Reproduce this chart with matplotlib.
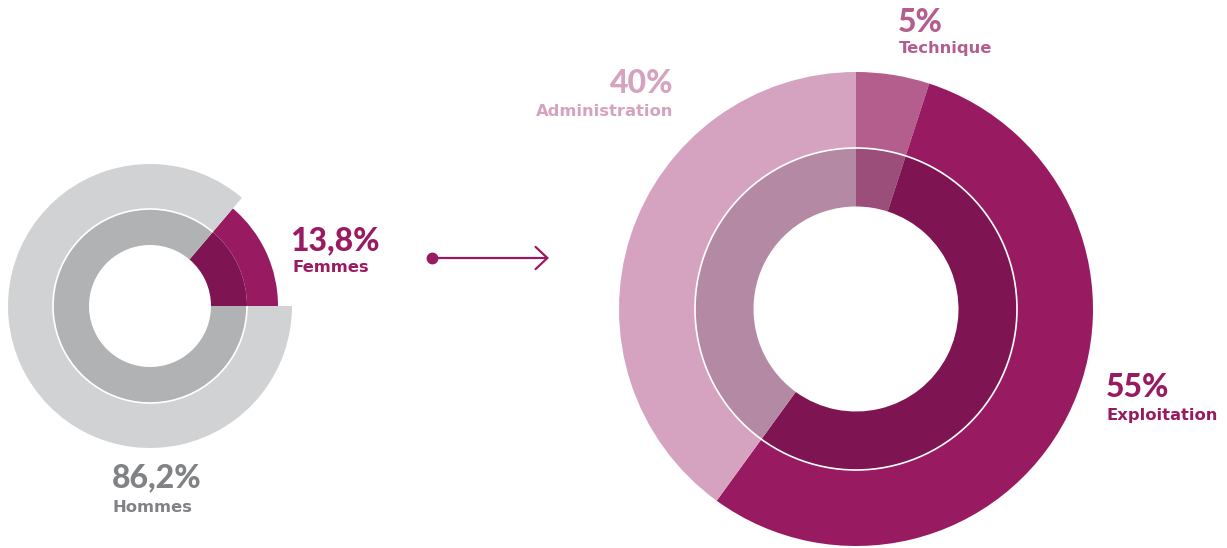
import matplotlib.pyplot as plt
import matplotlib.patches as patches

# données
genre_labels = ['Femmes', 'Hommes']
genre_values = [13.8, 86.2]
genre_texts = ['13,8%', '86,2%']

metier_labels = ['Technique', 'Exploitation', 'Administration']
metier_values = [5, 55, 40]
metier_texts = ['5%', '55%', '40%']

W, H = 1227, 548


def Y(py):
    # coordonnées image (haut = 0) -> coordonnées axes
    return H - py


fig = plt.figure(figsize=(W / 100, H / 100), dpi=100)
ax = fig.add_axes([0, 0, 1, 1])
ax.set_xlim(0, W)
ax.set_ylim(0, H)
ax.set_aspect('equal')
ax.axis('off')

# ---------------- donut gauche (genre) ----------------
cx1, cy1 = 150, Y(306)
r_hole1, r_mid1 = 61, 97
r_out_f, r_out_h = 128, 142
genre_outer = ['#981B62', '#D1D2D4']
genre_inner = ['#7E1552', '#B1B2B4']
genre_rout = [r_out_f, r_out_h]

start = 0.0
angles_h = None
for i, v in enumerate(genre_values):
    span = 360 * v / sum(genre_values)
    t1, t2 = start, start + span
    ax.add_patch(patches.Wedge((cx1, cy1), genre_rout[i], t1, t2,
                               width=genre_rout[i] - r_mid1,
                               facecolor=genre_outer[i], edgecolor='none'))
    ax.add_patch(patches.Wedge((cx1, cy1), r_mid1, t1, t2,
                               width=r_mid1 - r_hole1,
                               facecolor=genre_inner[i], edgecolor='none'))
    if genre_labels[i] == 'Hommes':
        angles_h = (t1, t2)
    start = t2

# fin cercle blanc sur la partie grise
ax.add_patch(patches.Arc((cx1, cy1), 2 * r_mid1, 2 * r_mid1,
                         theta1=angles_h[0], theta2=angles_h[1],
                         color='white', lw=1.2))

# ---------------- flèche ----------------
arrow_col = '#981B62'
ax.annotate('', xy=(549, Y(258)), xytext=(432, Y(258)),
            arrowprops=dict(arrowstyle='->,head_length=0.85,head_width=0.8',
                            color=arrow_col, lw=1.6, shrinkA=0, shrinkB=0))
ax.plot(432, Y(258), 'o', color=arrow_col, markersize=7.5)

# ---------------- donut droite (métiers) ----------------
cx2, cy2 = 856, Y(309)
r_hole2, r_mid2, r_out2 = 102.5, 161, 237
metier_outer = ['#B45E8E', '#981B62', '#D5A3C0']
metier_inner = ['#9A4E79', '#7F1452', '#B489A3']

start = 90.0
for i, v in enumerate(metier_values):
    span = 360 * v / sum(metier_values)
    t2, t1 = start, start - span  # sens horaire
    ax.add_patch(patches.Wedge((cx2, cy2), r_out2, t1, t2,
                               width=r_out2 - r_mid2,
                               facecolor=metier_outer[i], edgecolor='none'))
    ax.add_patch(patches.Wedge((cx2, cy2), r_mid2, t1, t2,
                               width=r_mid2 - r_hole2,
                               facecolor=metier_inner[i], edgecolor='none'))
    start = t1

ax.add_patch(patches.Circle((cx2, cy2), r_mid2, facecolor='none',
                            edgecolor='white', lw=1.2))

# ---------------- textes ----------------
num_font = dict(family=['Lato', 'DejaVu Sans'], fontweight=900, fontsize=23)
lab_font = dict(family=['DejaVu Sans'], fontweight='bold', fontsize=11.8)

# Femmes
ax.text(290, Y(250), genre_texts[0], color='#9B1B63', ha='left', va='baseline', **num_font)
ax.text(292, Y(272), genre_labels[0], color='#9B1B63', ha='left', va='baseline', **lab_font)
# Hommes
ax.text(112, Y(487), genre_texts[1], color='#808285', ha='left', va='baseline', **num_font)
ax.text(113, Y(512), genre_labels[1], color='#808285', ha='left', va='baseline', **lab_font)

# Technique
ax.text(898, Y(32), metier_texts[0], color='#B45E8E', ha='left', va='baseline', **num_font)
ax.text(899, Y(53), metier_labels[0], color='#B45E8E', ha='left', va='baseline', **lab_font)
# Exploitation
ax.text(1106, Y(397), metier_texts[1], color='#981B62', ha='left', va='baseline', **num_font)
ax.text(1107, Y(420), metier_labels[1], color='#981B62', ha='left', va='baseline', **lab_font)
# Administration
ax.text(673, Y(93), metier_texts[2], color='#D5A3C0', ha='right', va='baseline', **num_font)
ax.text(673, Y(116), metier_labels[2], color='#D5A3C0', ha='right', va='baseline', **lab_font)

fig.savefig('out.png', dpi=100, facecolor='white')
